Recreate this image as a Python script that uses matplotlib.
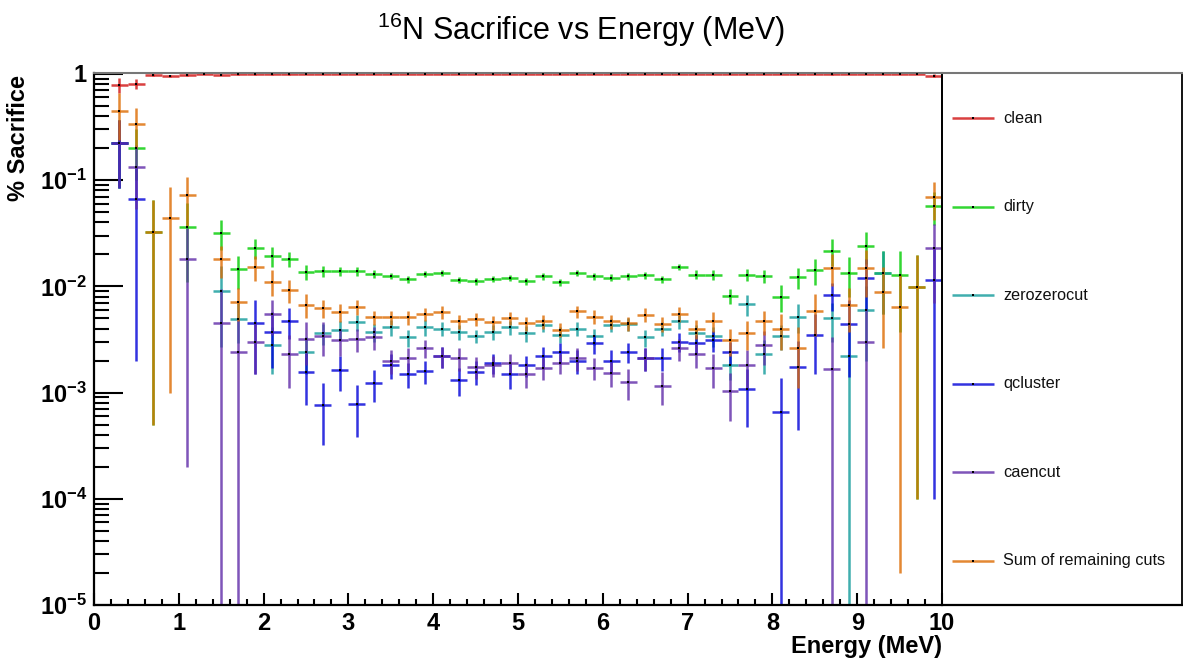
import numpy as np
import matplotlib
matplotlib.use('Agg')
import matplotlib.pyplot as plt
from matplotlib.ticker import FixedLocator, FuncFormatter, NullFormatter, MultipleLocator

plt.rcParams['font.family'] = ['Liberation Sans', 'DejaVu Sans']
plt.rcParams['mathtext.fontset'] = 'custom'
plt.rcParams['mathtext.rm'] = 'Liberation Sans'
plt.rcParams['mathtext.bf'] = 'Liberation Sans:bold'
plt.rcParams['mathtext.it'] = 'Liberation Sans:italic'

N = None
# bin centres (MeV), bin half-width 0.1
energy = [0.3, 0.5, 0.7, 0.9, 1.1, 1.3, 1.5, 1.7, 1.9, 2.1, 2.3, 2.5, 2.7, 2.9, 3.1, 3.3,
          3.5, 3.7, 3.9, 4.1, 4.3, 4.5, 4.7, 4.9, 5.1, 5.3, 5.5, 5.7, 5.9, 6.1, 6.3, 6.5,
          6.7, 6.9, 7.1, 7.3, 7.5, 7.7, 7.9, 8.1, 8.3, 8.5, 8.7, 8.9, 9.1, 9.3, 9.5, 9.7, 9.9]
bin_half_width = 0.1

clean = [0.79, 0.81, 0.98, 0.965, 0.98, 1.0, 0.985, 0.99, 0.99, 0.99, 0.99, 0.995, 0.995, 0.995, 0.995, 0.995,
         0.995, 0.995, 0.995, 0.995, 0.995, 0.995, 0.995, 0.995, 0.995, 0.995, 0.995, 0.995, 0.995, 0.995, 0.995, 0.995,
         0.995, 0.995, 0.995, 0.995, 0.995, 0.995, 0.995, 0.995, 0.995, 0.995, 0.99, 0.995, 0.995, 0.995, 0.995, 0.995, 0.963]
clean_err = [0.13, 0.09, 0.02, 0.02, 0.02, 0.01, 0.015, 0.01, 0.01, 0.01, 0.01, 0.005, 0.005, 0.005, 0.005, 0.005,
             0.005, 0.005, 0.005, 0.005, 0.005, 0.005, 0.005, 0.005, 0.005, 0.005, 0.005, 0.005, 0.005, 0.005, 0.005, 0.005,
             0.005, 0.005, 0.005, 0.005, 0.005, 0.005, 0.005, 0.005, 0.005, 0.005, 0.01, 0.005, 0.005, 0.005, 0.005, 0.005, 0.03]

dirty = [0.225, 0.20, 0.0325, N, 0.036, N, 0.0318, 0.0145, 0.0229, 0.0193, 0.0181, 0.0136, 0.0139, 0.0139, 0.0139, 0.0131,
         0.0126, 0.0117, 0.0131, 0.0135, 0.0115, 0.0112, 0.0117, 0.0121, 0.0112, 0.0125, 0.0109, 0.0135, 0.0125, 0.0121, 0.0125, 0.0127,
         0.0117, 0.0153, 0.0129, 0.0129, 0.0081, 0.0129, 0.0125, 0.0080, 0.0122, 0.0142, 0.0217, 0.0134, 0.0242, 0.0135, 0.0127, 0.0099, 0.0575]
dirty_err = [0.14, 0.10, 0.032, N, 0.025, N, 0.010, 0.005, 0.005, 0.004, 0.003, 0.0022, 0.0017, 0.0014, 0.0013, 0.0011,
             0.0009, 0.0009, 0.0009, 0.0009, 0.0008, 0.0008, 0.0008, 0.0008, 0.0008, 0.0009, 0.0008, 0.0009, 0.0009, 0.0009, 0.0009, 0.0009,
             0.0009, 0.0011, 0.0012, 0.0013, 0.0013, 0.0016, 0.0017, 0.0023, 0.0028, 0.0038, 0.006, 0.0055, 0.008, 0.008, 0.009, 0.0098, 0.02]

zerozerocut = [0.225, N, N, N, N, N, 0.0091, 0.0049, N, 0.0028, N, 0.0024, 0.0036, 0.0039, 0.0046, 0.0037,
               0.0041, 0.0033, 0.0041, 0.0040, 0.0037, 0.0034, 0.0037, 0.0041, 0.0036, 0.0043, 0.0035, 0.0040, 0.0034, 0.0043, 0.0044, 0.0033,
               0.0040, 0.0047, 0.0036, 0.0034, 0.0018, 0.0068, 0.0023, 0.0034, 0.0052, N, 0.0050, 0.0022, 0.0060, 0.0135, N, N, N]
zerozerocut_err = [0.14, N, N, N, N, N, 0.0064, 0.002, N, 0.0013, N, 0.0009, 0.0008, 0.0008, 0.0008, 0.0007,
                   0.0007, 0.0006, 0.0007, 0.0006, 0.0006, 0.0005, 0.0006, 0.0006, 0.0006, 0.0006, 0.0006, 0.0006, 0.0006, 0.0006, 0.0006, 0.0006,
                   0.0006, 0.0007, 0.0007, 0.0007, 0.0005, 0.0015, 0.0008, 0.0009, 0.0016, N, 0.002, 0.0023, 0.004, 0.008, N, N, N]

qcluster = [0.225, 0.067, N, N, N, N, N, N, 0.0045, 0.0037, 0.0047, 0.00157, 0.00077, 0.00163, 0.00078, 0.00122,
            0.00183, 0.0015, 0.0016, 0.0022, 0.00132, 0.00157, 0.0019, 0.00149, 0.0018, 0.0022, 0.0024, 0.0020, 0.0029, 0.0020, 0.0024, 0.0021,
            0.0021, 0.0030, 0.0029, 0.0031, 0.0024, 0.00107, N, 0.00066, 0.00174, 0.0035, 0.0083, 0.0044, 0.0120, N, N, N, 0.0115]
qcluster_err = [0.14, 0.065, N, N, N, N, N, N, 0.003, 0.002, 0.0015, 0.0008, 0.00045, 0.0006, 0.0004, 0.0004,
                0.0005, 0.0004, 0.0004, 0.0005, 0.0004, 0.0004, 0.0004, 0.0004, 0.0004, 0.0005, 0.0005, 0.0005, 0.0006, 0.0005, 0.0005, 0.0005,
                0.0005, 0.0006, 0.0006, 0.0007, 0.0006, 0.0006, N, 0.0007, 0.0013, 0.002, 0.0024, 0.003, 0.006, N, N, N, 0.0114]

caencut = [0.225, 0.134, N, N, 0.018, N, 0.0045, 0.0024, 0.0030, 0.0055, 0.0023, 0.0032, 0.0034, 0.0031, 0.0032, 0.0033,
           0.0020, 0.0021, 0.0026, 0.0022, 0.0021, 0.00175, 0.0018, 0.0019, 0.0015, 0.0017, 0.0019, 0.0021, 0.0017, 0.00153, 0.00126, 0.0021,
           0.00116, 0.0026, 0.0023, 0.0017, 0.00104, 0.0018, 0.0028, N, N, N, 0.00167, N, 0.0030, N, N, N, 0.0229]
caencut_err = [0.14, 0.08, N, N, 0.0178, N, 0.005, 0.0025, 0.0015, 0.002, 0.0012, 0.0014, 0.0012, 0.0009, 0.0008, 0.0008,
               0.0005, 0.0005, 0.0005, 0.0005, 0.0005, 0.0004, 0.0004, 0.0004, 0.0004, 0.0004, 0.0004, 0.0005, 0.0004, 0.0004, 0.0004, 0.0005,
               0.0004, 0.0006, 0.0006, 0.0006, 0.0005, 0.0007, 0.001, N, N, N, 0.0017, N, 0.0031, N, N, N, 0.016]

sum_cuts = [0.45, 0.34, 0.0325, 0.044, 0.072, N, 0.018, 0.0072, 0.0152, 0.0111, 0.0093, 0.0067, 0.0062, 0.0057, 0.0064, 0.0051,
            0.0051, 0.0051, 0.0055, 0.0057, 0.0047, 0.0049, 0.0046, 0.0050, 0.0045, 0.0047, 0.0039, 0.0058, 0.0052, 0.0047, 0.0045, 0.0054,
            0.0044, 0.0055, 0.0040, 0.0047, 0.0031, 0.0036, 0.0047, 0.0040, 0.0026, 0.0059, 0.0150, 0.0067, 0.0150, 0.0089, 0.0064, 0.0099, 0.069]
sum_cuts_err = [0.21, 0.14, 0.032, 0.043, 0.035, N, 0.006, 0.0025, 0.004, 0.003, 0.0023, 0.0017, 0.0012, 0.0011, 0.001, 0.0008,
                0.0008, 0.0008, 0.0008, 0.0008, 0.0007, 0.0007, 0.0007, 0.0007, 0.0007, 0.0007, 0.0006, 0.0008, 0.0008, 0.0007, 0.0007, 0.0008,
                0.0007, 0.0009, 0.0008, 0.001, 0.0009, 0.0011, 0.0012, 0.0015, 0.0015, 0.0025, 0.005, 0.003, 0.007, 0.0063, 0.00638, 0.0098, 0.027]

labels = ['clean', 'dirty', 'zerozerocut', 'qcluster', 'caencut', 'Sum of remaining cuts']
colors = ['#d01010', '#00cc00', '#109a9a', '#0000d8', '#5f2aa8', '#dd6a00']
series_vals = [clean, dirty, zerozerocut, qcluster, caencut, sum_cuts]
series_errs = [clean_err, dirty_err, zerozerocut_err, qcluster_err, caencut_err, sum_cuts_err]

W, H = 1183, 663
fig = plt.figure(figsize=(W / 100, H / 100), dpi=100)
ax = fig.add_axes([94 / W, 58 / H, 848 / W, 532 / H])

ALPHA = 0.8
LW = 1.8
for vals, errs, col in zip(series_vals, series_errs, colors):
    xs, ys, lo, hi = [], [], [], []
    for e, v, er in zip(energy, vals, errs):
        if v is None:
            continue
        xs.append(e)
        ys.append(v)
        lo.append(er if v - er > 1e-9 else v - 1e-9)
        hi.append(er)
    ax.errorbar(xs, ys, xerr=bin_half_width, yerr=[lo, hi], fmt='none', ecolor=col,
                elinewidth=LW, alpha=ALPHA, capsize=0)
    ax.plot(xs, ys, 's', ms=1.7, color='black', mew=0, zorder=5)

ax.set_yscale('log')
ax.set_xlim(0, 10)
ax.set_ylim(1e-5, 1.02)

ax.yaxis.set_major_locator(FixedLocator([1e-5, 1e-4, 1e-3, 1e-2, 1e-1, 1]))
minors = [m * 10.0 ** k for k in range(-5, 0) for m in range(2, 10)]
ax.yaxis.set_minor_locator(FixedLocator(minors))
ax.yaxis.set_minor_formatter(NullFormatter())

def yfmt(v, pos):
    k = int(round(np.log10(v)))
    if k == 0:
        return r'$\mathbf{1}$'
    return r'$\mathbf{10^{%d}}$' % k

ax.yaxis.set_major_formatter(FuncFormatter(yfmt))
ax.xaxis.set_major_locator(MultipleLocator(1))
ax.xaxis.set_minor_locator(MultipleLocator(0.2))

ax.tick_params(axis='y', which='major', direction='in', length=21, width=1.5, left=True, right=False,
               labelsize=17, pad=5)
ax.tick_params(axis='y', which='minor', direction='in', length=11, width=1.5, left=True, right=False)
ax.tick_params(axis='x', which='major', direction='in', length=9, width=1.5, bottom=True, top=False,
               labelsize=17, pad=5)
ax.tick_params(axis='x', which='minor', direction='in', length=4.5, width=1.5, bottom=True, top=False)
for lab in ax.get_xticklabels():
    lab.set_fontweight('bold')

for side in ['left', 'bottom']:
    ax.spines[side].set_linewidth(1.6)
    ax.spines[side].set_color('black')
ax.spines['right'].set_linewidth(1.3)
ax.spines['top'].set_linewidth(1.5)
ax.spines['top'].set_color('#777777')

# legend box
lax = fig.add_axes([942 / W, 58 / H, 240 / W, 532 / H])
lax.set_xlim(942, 1182)
lax.set_ylim(605, 73)
lax.set_xticks([])
lax.set_yticks([])
lax.patch.set_alpha(0)
lax.spines['bottom'].set_linewidth(1.6)
lax.spines['left'].set_linewidth(1.3)
lax.spines['top'].set_linewidth(1.5)
lax.spines['top'].set_color('#777777')
lax.spines['right'].set_linewidth(1.3)
legend_rows = [118, 206.5, 295, 383.5, 472, 560.5]
for lab, col, yy in zip(labels, colors, legend_rows):
    lax.plot([952, 994], [yy, yy], color=col, lw=LW, alpha=ALPHA, solid_capstyle='butt')
    lax.plot([973], [yy], 's', ms=1.7, color='black', mew=0)
    lax.text(1003, yy, lab, ha='left', va='center', fontsize=11.7, color='#111111')

fig.text(581 / W, 1 - 30 / H, r'$^{16}$N Sacrifice vs Energy (MeV)', ha='center', va='center', fontsize=22)
fig.text(19 / W, 1 - 75 / H, '% Sacrifice', rotation=90, ha='center', va='top', fontsize=17, fontweight='bold')
fig.text(942 / W, 1 - 647 / H, 'Energy (MeV)', ha='right', va='center', fontsize=17, fontweight='bold')

fig.savefig('out.png', dpi=100)
